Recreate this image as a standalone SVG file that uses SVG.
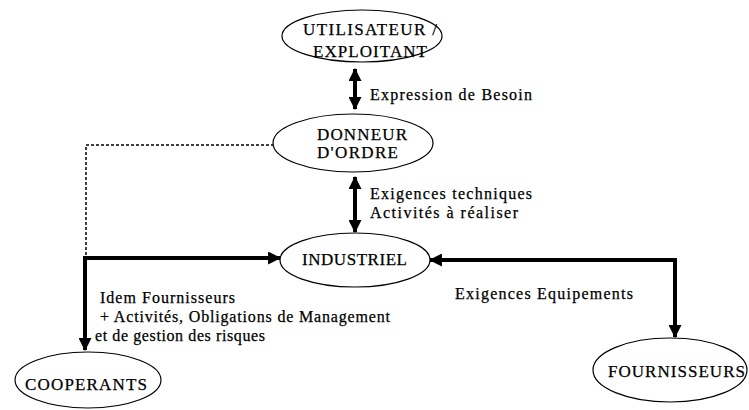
<svg xmlns="http://www.w3.org/2000/svg" width="749" height="410" viewBox="0 0 749 410">
<defs>
<style>
.node ellipse{fill:#fff;stroke:#000;stroke-width:1.2}
.nl{font-family:"Liberation Serif","Times New Roman",serif;font-size:17px;fill:#000;stroke:#000;stroke-width:0.25}
.lb{font-family:"Liberation Serif","Times New Roman",serif;font-size:16px;fill:#000;stroke:#000;stroke-width:0.25}
.thick{fill:none;stroke:#000;stroke-width:4}
.dot{fill:none;stroke:#000;stroke-width:1.5;stroke-dasharray:3 2}
</style>
<marker id="ah" viewBox="0 0 12 12" refX="11" refY="6" markerWidth="13" markerHeight="13" markerUnits="userSpaceOnUse" orient="auto-start-reverse">
<path d="M0,0 L12,6 L0,12 Z" fill="#000"/>
</marker>
</defs>
<rect width="749" height="410" fill="#fff"/>
<g id="connectors">
<path class="thick" d="M355,69 L355,109" marker-start="url(#ah)" marker-end="url(#ah)"/>
<path class="thick" d="M355,177 L355,232" marker-start="url(#ah)" marker-end="url(#ah)"/>
<path class="dot" d="M274,145 L86,145 L86,256"/>
<path class="thick" d="M85,350 L85,258 L280,258" marker-start="url(#ah)" marker-end="url(#ah)"/>
<path class="thick" d="M430,260 L675,260 L675,337" marker-start="url(#ah)" marker-end="url(#ah)"/>
<text class="lb" x="370" y="100" textLength="162">Expression de Besoin</text>
<text class="lb" x="370" y="199" textLength="162">Exigences techniques</text>
<text class="lb" x="370" y="218" textLength="148">Activités à réaliser</text>
<text class="lb" x="100" y="303" textLength="135">Idem Fournisseurs</text>
<text class="lb" x="100" y="322" textLength="290">+ Activités, Obligations de Management</text>
<text class="lb" x="95" y="341" textLength="170">et de gestion des risques</text>
<text class="lb" x="455" y="299" textLength="178">Exigences Equipements</text>
</g>
<g id="utilisateur" class="node">
<ellipse cx="362" cy="36" rx="80" ry="26"/>
<text class="nl" x="303" y="35" textLength="134">UTILISATEUR /</text>
<text class="nl" x="313" y="57" textLength="114">EXPLOITANT</text>
</g>
<g id="donneur" class="node">
<ellipse cx="353" cy="143" rx="80" ry="29"/>
<text class="nl" x="317" y="140" textLength="90">DONNEUR</text>
<text class="nl" x="317" y="158" textLength="81">D'ORDRE</text>
</g>
<g id="industriel" class="node">
<ellipse cx="355" cy="260" rx="75" ry="27"/>
<text class="nl" x="302" y="265" textLength="105">INDUSTRIEL</text>
</g>
<g id="cooperants" class="node">
<ellipse cx="88" cy="380" rx="73" ry="28"/>
<text class="nl" x="25" y="390" textLength="122">COOPERANTS</text>
</g>
<g id="fournisseurs" class="node">
<ellipse cx="670" cy="370" rx="77" ry="32"/>
<text class="nl" x="608" y="377" textLength="137">FOURNISSEURS</text>
</g>
</svg>
